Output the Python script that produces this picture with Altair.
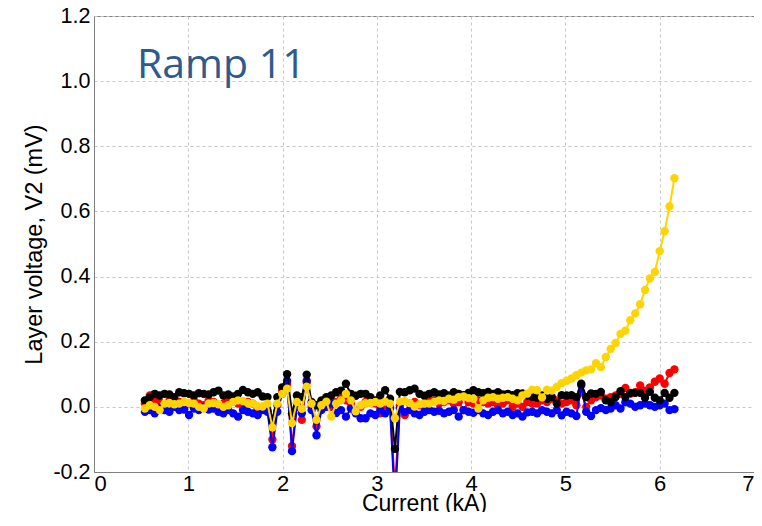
import altair as alt
import pandas as pd

current_kA = [
    0.540, 0.592, 0.644, 0.696, 0.748, 0.800, 0.852, 0.904, 0.956, 1.008,
    1.060, 1.112, 1.164, 1.216, 1.268, 1.320, 1.372, 1.424, 1.476, 1.528,
    1.580, 1.632, 1.684, 1.736, 1.788, 1.840, 1.892, 1.944, 1.996, 2.048,
    2.100, 2.152, 2.204, 2.256, 2.308, 2.360, 2.412, 2.464, 2.516, 2.568,
    2.620, 2.672, 2.724, 2.776, 2.828, 2.880, 2.932, 2.984, 3.036, 3.088,
    3.140, 3.192, 3.244, 3.296, 3.348, 3.400, 3.452, 3.504, 3.556, 3.608,
    3.660, 3.712, 3.764, 3.816, 3.868, 3.920, 3.972, 4.024, 4.076, 4.128,
    4.180, 4.232, 4.284, 4.336, 4.388, 4.440, 4.492, 4.544, 4.596, 4.648,
    4.700, 4.752, 4.804, 4.856, 4.908, 4.960, 5.012, 5.064, 5.116, 5.168,
    5.220, 5.272, 5.324, 5.376, 5.428, 5.480, 5.532, 5.584, 5.636, 5.688,
    5.740, 5.792, 5.844, 5.896, 5.948, 6.000, 6.052, 6.104, 6.156,
]

v_red = [
    0.010, 0.035, 0.020, 0.015, 0.005, 0.020, 0.010, 0.015, 0.005, 0.010,
    0.020, 0.010, 0.005, 0.020, 0.015, 0.000, 0.010, 0.020, 0.025, 0.010,
    0.005, 0.015, 0.010, -0.005, 0.000, -0.010, -0.100, 0.005, 0.050, 0.070,
    -0.120, 0.010, -0.040, 0.075, 0.000, -0.060, 0.010, 0.020, 0.000, 0.015,
    0.025, 0.020, 0.010, -0.015, 0.000, 0.015, 0.020, 0.010, -0.020, 0.005,
    0.000, -0.250, 0.005, -0.025, 0.010, 0.015, 0.005, 0.010, 0.015, 0.020,
    0.010, 0.015, 0.020, 0.010, 0.015, -0.010, 0.015, 0.010, 0.020, 0.015,
    0.010, 0.015, 0.005, 0.010, 0.020, 0.000, 0.010, 0.000, 0.015, 0.010,
    0.010, 0.020, 0.015, 0.025, 0.020, 0.010, 0.015, 0.020, 0.005, 0.045,
    0.000, 0.020, 0.030, 0.035, 0.025, 0.030, 0.035, 0.040, 0.058, 0.040,
    0.045, 0.066, 0.050, 0.060, 0.077, 0.087, 0.071, 0.104, 0.115,
]

v_blue = [
    -0.015, -0.010, -0.020, -0.005, -0.010, -0.015, 0.000, -0.010, -0.008, -0.025,
    -0.005, -0.010, 0.000, -0.008, -0.005, -0.015, -0.020, -0.010, -0.020, -0.030,
    -0.010, -0.015, -0.020, -0.025, -0.010, -0.015, -0.124, -0.015, 0.040, 0.080,
    -0.136, 0.000, -0.020, 0.080, -0.010, -0.087, -0.010, 0.000, 0.011, -0.019,
    -0.010, -0.030, -0.005, -0.020, -0.035, -0.035, -0.020, -0.025, -0.010, -0.020,
    -0.005, -0.300, -0.005, -0.016, -0.010, -0.020, -0.025, -0.015, -0.010, -0.015,
    -0.012, -0.020, -0.015, -0.010, -0.030, -0.010, -0.015, -0.018, -0.010, -0.020,
    -0.025, -0.015, -0.010, -0.020, -0.015, -0.025, -0.020, -0.030, -0.017, -0.015,
    -0.020, -0.010, -0.015, -0.020, -0.010, -0.026, -0.015, -0.020, -0.028, 0.066,
    -0.015, -0.028, -0.010, -0.004, -0.010, -0.005, 0.005, -0.005, 0.014, 0.010,
    0.000, 0.005, 0.010, 0.005, 0.000, 0.005, 0.010, -0.010, -0.007,
]

v_black = [
    0.020, 0.030, 0.040, 0.035, 0.040, 0.038, 0.030, 0.045, 0.042, 0.040,
    0.035, 0.042, 0.040, 0.038, 0.045, 0.050, 0.035, 0.038, 0.032, 0.040,
    0.052, 0.045, 0.040, 0.045, 0.032, 0.030, -0.040, 0.030, 0.060, 0.100,
    -0.020, 0.035, 0.030, 0.099, 0.015, 0.005, 0.020, 0.030, 0.035, 0.045,
    0.050, 0.071, 0.040, 0.034, 0.040, 0.040, 0.030, 0.020, 0.035, 0.051,
    0.025, -0.129, 0.046, 0.045, 0.051, 0.056, 0.040, 0.034, 0.040, 0.045,
    0.038, 0.042, 0.035, 0.045, 0.040, 0.036, 0.043, 0.051, 0.045, 0.042,
    0.046, 0.040, 0.045, 0.038, 0.040, 0.036, 0.042, 0.041, 0.035, 0.031,
    0.028, 0.035, 0.025, 0.030, 0.010, 0.036, 0.035, 0.036, 0.030, 0.071,
    0.030, 0.041, 0.040, 0.046, 0.020, 0.015, 0.030, 0.048, 0.030, 0.043,
    0.043, 0.043, 0.028, 0.046, 0.028, 0.020, 0.043, 0.028, 0.043,
]

v_yellow = [
    -0.005, 0.005, 0.000, -0.010, 0.010, 0.012, 0.008, 0.010, 0.015, 0.012,
    0.010, 0.000, -0.005, 0.010, 0.012, 0.008, 0.000, 0.005, 0.015, 0.020,
    0.018, 0.012, 0.010, 0.002, 0.001, 0.010, -0.063, 0.010, 0.040, 0.056,
    -0.050, 0.015, -0.006, 0.062, 0.010, -0.040, 0.005, 0.016, -0.030, 0.010,
    0.020, 0.040, 0.020, -0.014, 0.005, 0.011, 0.012, 0.015, 0.010, 0.016,
    0.010, -0.035, 0.016, 0.018, 0.012, 0.001, 0.008, 0.010, 0.010, 0.015,
    0.020, 0.018, 0.025, 0.022, 0.030, 0.032, 0.027, 0.025, -0.005, 0.020,
    0.028, 0.030, 0.025, 0.028, 0.030, 0.025, 0.020, 0.035, 0.041, 0.053,
    0.051, 0.029, 0.053, 0.050, 0.061, 0.073, 0.080, 0.087, 0.097, 0.105,
    0.112, 0.115, 0.134, 0.122, 0.153, 0.178, 0.196, 0.224, 0.234, 0.266,
    0.287, 0.315, 0.359, 0.394, 0.414, 0.478, 0.539, 0.615, 0.702,
]

series = [
    ("Red", v_red, "#FF0000"),
    ("Blue", v_blue, "#0000FF"),
    ("Black", v_black, "#000000"),
    ("Yellow", v_yellow, "#FFD400"),
]

rows = []
for name, vals, _ in series:
    for x, y in zip(current_kA, vals):
        rows.append({"series": name, "I": x, "V": y})
df = pd.DataFrame(rows)

x_enc = alt.X(
    "I:Q",
    scale=alt.Scale(domain=[0, 7], nice=False, zero=False),
    axis=alt.Axis(
        values=[0, 1, 2, 3, 4, 5, 6, 7],
        title="Current (kA)",
        format="d",
        grid=True,
        gridDash=[3, 3],
        gridColor="#c8c8c8",
        domainColor="#808080",
        ticks=False,
        labelFont="Liberation Sans",
        labelFontSize=22,
        labelColor="#000000",
        labelPadding=1,
        titleFont="Liberation Sans",
        titleFontSize=23,
        titleFontWeight="normal",
        titleColor="#000000",
        titlePadding=-2,
    ),
)
y_enc = alt.Y(
    "V:Q",
    scale=alt.Scale(domain=[-0.2, 1.2], nice=False, zero=False),
    axis=alt.Axis(
        values=[-0.2, 0.0, 0.2, 0.4, 0.6, 0.8, 1.0, 1.2],
        title="Layer voltage, V2 (mV)",
        labelExpr="replace(format(datum.value, '.1f'), '\u2212', '-')",
        grid=True,
        gridDash=[3, 3],
        gridColor="#c8c8c8",
        domainColor="#808080",
        ticks=False,
        labelFont="Liberation Sans",
        labelFontSize=21.5,
        labelColor="#000000",
        labelPadding=4,
        titleFont="Liberation Sans",
        titleFontSize=23.5,
        titleFontWeight="normal",
        titleColor="#000000",
        titlePadding=6,
    ),
)

layers = []
for name, _, col in series:
    base = alt.Chart(df).transform_filter(alt.datum.series == name)
    layers.append(base.mark_line(color=col, strokeWidth=2, clip=True).encode(x=x_enc, y=y_enc))
    layers.append(base.mark_circle(color=col, size=70, opacity=1, clip=True).encode(x=x_enc, y=y_enc))

label_df = pd.DataFrame({"t": ["Ramp 11"]})
label = alt.Chart(label_df).mark_text(
    align="left", baseline="middle", font="Open Sans", fontSize=41, color="#2E5A8E"
).encode(text="t:N", x=alt.value(43), y=alt.value(50))
layers.append(label)

chart = alt.layer(*layers).properties(
    width=660,
    height=456,
    padding={"left": 86, "top": 8, "right": 0, "bottom": 40},
    autosize=alt.AutoSizeParams(type="none"),
).configure_view(stroke="#808080", strokeWidth=1)

chart.save("out.html", embed_options={"renderer": "svg", "actions": False})
